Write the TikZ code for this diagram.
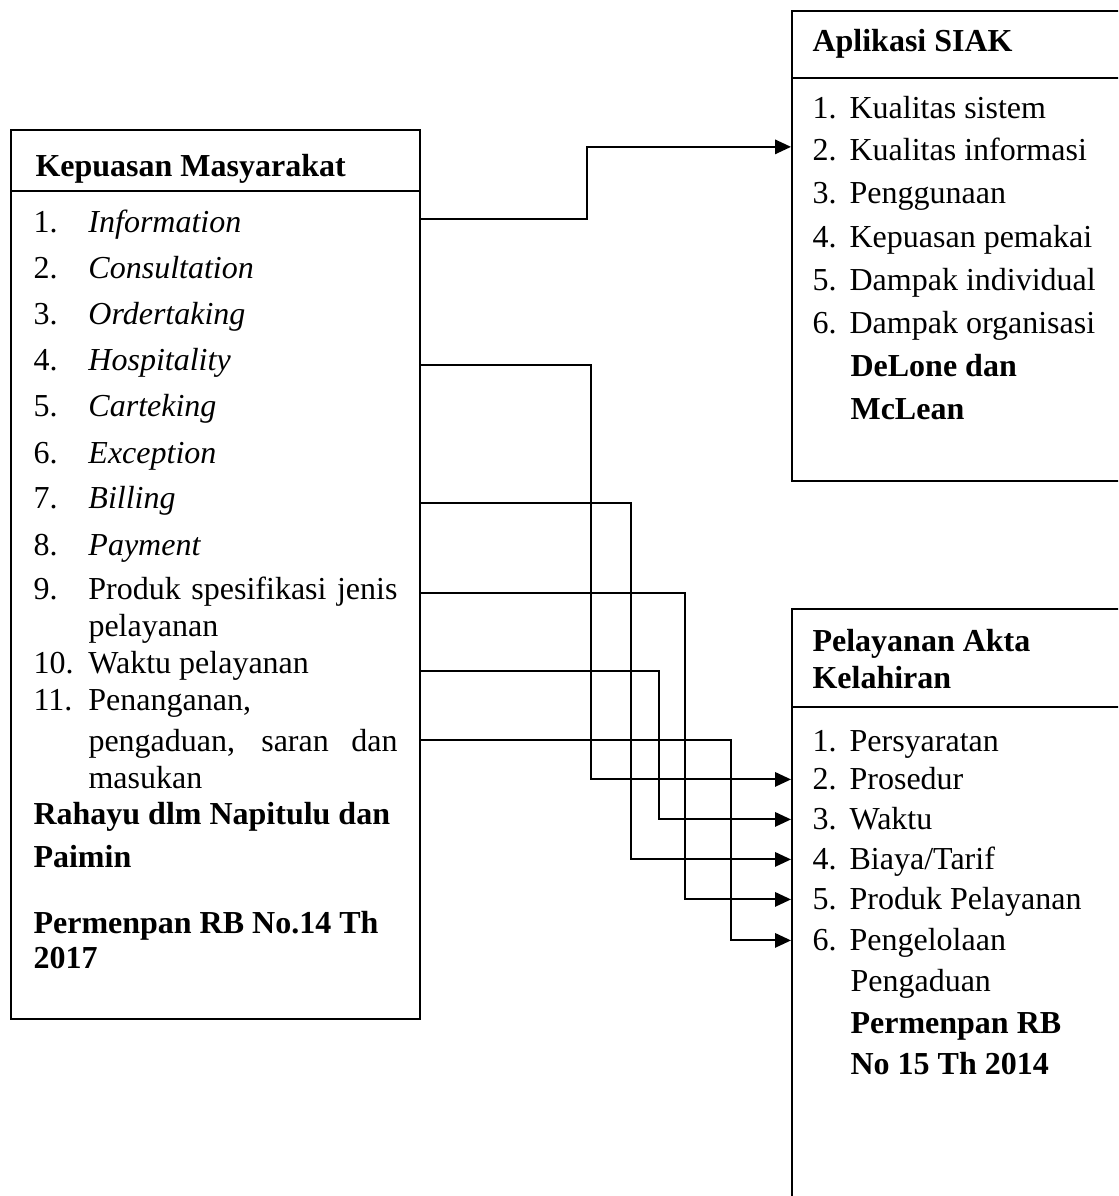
\documentclass[tikz,border=0pt]{standalone}
\usepackage{fontspec}
\setmainfont{Liberation Serif}
\usetikzlibrary{arrows.meta}
\newcommand\nomor[2]{\makebox[20.6pt][l]{#1}#2}
\newcommand\butir[2]{\makebox[13.9pt][l]{#1}#2}
\begin{document}
\begin{tikzpicture}[x=0.375pt,y=-0.375pt,
  kotak/.style={draw,line width=0.8pt,anchor=north west,inner sep=0pt},
  baris/.style={anchor=base west,inner sep=0pt,font=\fontsize{12}{14}\selectfont},
  tebal/.style={baris,font=\fontsize{12}{14}\selectfont\bfseries},
  panah/.style={line width=0.75pt,-{Triangle[length=6pt,width=5.4pt]}}]
\useasboundingbox (0,0) rectangle (1118,1196);
\clip (0,0) rectangle (1118,1196);
% kotak kiri: kepuasan masyarakat
\node[kotak,minimum width=409*0.375pt,minimum height=889*0.375pt] (kepuasan) at (10,129) {};
\draw[line width=0.8pt] (10,191) -- (419,191);
\node[tebal] (kjudul) at (35,177) {Kepuasan Masyarakat};
\node[baris] (k1) at (33,233) {\nomor{1.}{\textit{Information}}};
\node[baris] (k2) at (33,279) {\nomor{2.}{\textit{Consultation}}};
\node[baris] (k3) at (33,325) {\nomor{3.}{\textit{Ordertaking}}};
\node[baris] (k4) at (33,371) {\nomor{4.}{\textit{Hospitality}}};
\node[baris] (k5) at (33,417) {\nomor{5.}{\textit{Carteking}}};
\node[baris] (k6) at (33,463) {\nomor{6.}{\textit{Exception}}};
\node[baris] (k7) at (33,509) {\nomor{7.}{\textit{Billing}}};
\node[baris] (k8) at (33,555) {\nomor{8.}{\textit{Payment}}};
\node[baris] (k9) at (33,599) {\nomor{9.}{\makebox[115.9pt][s]{Produk spesifikasi jenis}}};
\node[baris] (k9b) at (88,636) {pelayanan};
\node[baris] (k10) at (33,673) {\nomor{10.}{Waktu pelayanan}};
\node[baris] (k11) at (33,710) {\nomor{11.}{Penanganan,}};
\node[baris] (k11b) at (88,751) {\makebox[115.9pt][s]{pengaduan, saran dan}};
\node[baris] (k11c) at (88,788) {masukan};
\node[tebal] (r1) at (33,824) {Rahayu dlm Napitulu dan};
\node[tebal] (r2) at (33,867) {Paimin};
\node[tebal] (r3) at (33,933) {Permenpan RB No.14 Th};
\node[tebal] (r4) at (33,968) {2017};
% kotak kanan atas: aplikasi SIAK
\node[kotak,minimum width=345*0.375pt,minimum height=470*0.375pt] (siak) at (791,10) {};
\draw[line width=0.8pt] (791,78) -- (1136,78);
\node[tebal] (sjudul) at (812,52) {Aplikasi SIAK};
\node[baris] (s1) at (812,119) {\butir{1.}{Kualitas sistem}};
\node[baris] (s2) at (812,161) {\butir{2.}{Kualitas informasi}};
\node[baris] (s3) at (812,204) {\butir{3.}{Penggunaan}};
\node[baris] (s4) at (812,248) {\butir{4.}{Kepuasan pemakai}};
\node[baris] (s5) at (812,291) {\butir{5.}{Dampak individual}};
\node[baris] (s6) at (812,334) {\butir{6.}{Dampak organisasi}};
\node[tebal] (d1) at (850,377) {DeLone dan};
\node[tebal] (d2) at (850,420) {McLean};
% kotak kanan bawah: pelayanan akta kelahiran
\node[kotak,minimum width=345*0.375pt,minimum height=620*0.375pt] (akta) at (791,608) {};
\draw[line width=0.8pt] (791,707) -- (1136,707);
\node[tebal] (ajudul) at (812,651) {Pelayanan Akta};
\node[tebal] (ajudulb) at (812,688) {Kelahiran};
\node[baris] (a1) at (812,751) {\butir{1.}{Persyaratan}};
\node[baris] (a2) at (812,789) {\butir{2.}{Prosedur}};
\node[baris] (a3) at (812,829) {\butir{3.}{Waktu}};
\node[baris] (a4) at (812,869) {\butir{4.}{Biaya/Tarif}};
\node[baris] (a5) at (812,909) {\butir{5.}{Produk Pelayanan}};
\node[baris] (a6) at (812,950) {\butir{6.}{Pengelolaan}};
\node[baris] (a6b) at (850,991) {Pengaduan};
\node[tebal] (p1) at (850,1033) {Permenpan RB};
\node[tebal] (p2) at (850,1074) {No 15 Th 2014};
% titik belok
\coordinate (b1) at (587,0);
\coordinate (b4) at (591,0);
\coordinate (b7) at (631,0);
\coordinate (b9) at (685,0);
\coordinate (b10) at (659,0);
\coordinate (b11) at (731,0);
\coordinate (o1) at ([yshift=3pt]k1.mid);
\coordinate (o10) at ([yshift=-1.5pt]k10.mid);
\coordinate (o11) at ([yshift=1.8pt]k11b.mid);
\coordinate (t2) at ([yshift=3pt]s2.mid);
\foreach \i in {2,...,6}
  \coordinate (u\i) at ([yshift=1.3pt]a\i.mid);
\draw[panah] (kepuasan.east |- o1) -| (b1 |- t2) -- (siak.west |- t2);
\draw[panah] (kepuasan.east |- k4.mid) -| (b4 |- u2) -- (akta.west |- u2);
\draw[panah] (kepuasan.east |- k7.mid) -| (b7 |- u4) -- (akta.west |- u4);
\draw[panah] (kepuasan.east |- k9.mid) -| (b9 |- u5) -- (akta.west |- u5);
\draw[panah] (kepuasan.east |- o10) -| (b10 |- u3) -- (akta.west |- u3);
\draw[panah] (kepuasan.east |- o11) -| (b11 |- u6) -- (akta.west |- u6);
\end{tikzpicture}
\end{document}
